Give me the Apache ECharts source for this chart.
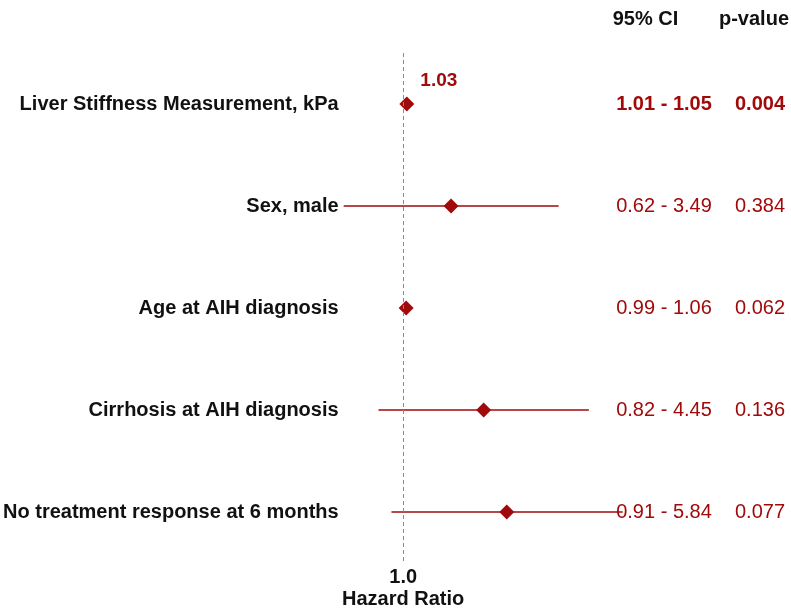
<!DOCTYPE html>
<html>
<head>
<meta charset="utf-8">
<script src="https://cdn.jsdelivr.net/npm/echarts@6/dist/echarts.min.js"></script>
<style>
  html, body { margin: 0; padding: 0; background: #ffffff; }
  #chart { width: 791px; height: 613px; }
</style>
</head>
<body>
<div id="chart"></div>
<script>
// Cox regression: hazard ratios with 95% confidence intervals
const variables = [
  'Liver Stiffness Measurement, kPa',
  'Sex, male',
  'Age at AIH diagnosis',
  'Cirrhosis at AIH diagnosis',
  'No treatment response at 6 months'
];
const hazardRatio = [1.03, 1.47, 1.024, 1.91, 2.30];
const ciLower = [1.01, 0.62, 0.99, 0.82, 0.91];
const ciUpper = [1.05, 3.49, 1.06, 4.45, 5.84];
const ciText = ['1.01 - 1.05', '0.62 - 3.49', '0.99 - 1.06', '0.82 - 4.45', '0.91 - 5.84'];
const pValues = ['0.004', '0.384', '0.062', '0.136', '0.077'];
const significantRows = [0];

const RED = '#a00a0a';
const FONT = 'Liberation Sans, Arial, sans-serif';
const FS = 20;

const chart = echarts.init(document.getElementById('chart'), null, { renderer: 'canvas' });

const pointData = hazardRatio.map((v, i) => {
  const item = { value: [v, i] };
  if (significantRows.includes(i)) {
    item.label = {
      show: true,
      position: 'inside',
      offset: [32, -23],
      formatter: () => v.toFixed(2),
      color: RED,
      fontWeight: 'bold',
      fontSize: 19,
      fontFamily: FONT
    };
  }
  return item;
});

const ciData = ciLower.map((lo, i) => [lo, ciUpper[i], i]);

function columnAxis(texts, offset, header, headerPad) {
  return {
    type: 'category',
    data: variables,
    inverse: true,
    position: 'right',
    offset: offset,
    axisLine: { show: false },
    axisTick: { show: false },
    splitLine: { show: false },
    name: header,
    nameLocation: 'start',
    nameGap: 24,
    nameTextStyle: {
      color: '#111',
      fontWeight: 'bold',
      fontSize: FS,
      fontFamily: FONT,
      align: 'center',
      padding: headerPad
    },
    axisLabel: {
      margin: 0,
      align: 'center',
      fontFamily: FONT,
      fontSize: FS,
      color: RED,
      formatter: (val, idx) => significantRows.includes(idx)
        ? '{b|' + texts[idx] + '}'
        : texts[idx],
      rich: {
        b: { fontWeight: 'bold', fontSize: FS, fontFamily: FONT, color: RED }
      }
    }
  };
}

const option = {
  animation: false,
  backgroundColor: '#ffffff',
  grid: { left: 338, top: 53, width: 298, height: 510 },
  xAxis: {
    type: 'log',
    min: 0.6,
    max: 6.5,
    axisLine: { show: false },
    axisTick: { show: false },
    splitLine: { show: false },
    axisLabel: {
      customValues: [1],
      margin: 3,
      formatter: () => '{a|1.0}\n{b|Hazard Ratio}',
      rich: {
        a: { fontWeight: 'bold', fontSize: FS, fontFamily: FONT, color: '#111', lineHeight: 22, align: 'center' },
        b: { fontWeight: 'bold', fontSize: FS, fontFamily: FONT, color: '#111', lineHeight: 22, align: 'center' }
      }
    }
  },
  yAxis: [
    {
      type: 'category',
      data: variables,
      inverse: true,
      axisLine: { show: false },
      axisTick: { show: false },
      splitLine: { show: false },
      axisLabel: {
        margin: 1,
        fontWeight: 'bold',
        fontSize: FS,
        fontFamily: FONT,
        color: '#111'
      }
    },
    columnAxis(ciText, 28, '95% CI', [0, 37, 0, 0]),
    columnAxis(pValues, 124, 'p-value', [0, 12, 0, 0])
  ],
  series: [
    {
      type: 'custom',
      name: 'CI',
      clip: false,
      data: ciData,
      encode: { x: [0, 1], y: 2 },
      renderItem: (params, api) => {
        const a = api.coord([api.value(0), api.value(2)]);
        const b = api.coord([api.value(1), api.value(2)]);
        return {
          type: 'line',
          shape: { x1: a[0], y1: a[1], x2: b[0], y2: b[1] },
          style: { stroke: RED, lineWidth: 1.5 }
        };
      }
    },
    {
      type: 'scatter',
      name: 'HR',
      symbol: 'diamond',
      symbolSize: 15,
      itemStyle: { color: RED, opacity: 1 },
      data: pointData,
      z: 3,
      markLine: {
        silent: true,
        symbol: 'none',
        label: { show: false },
        lineStyle: { color: '#8a8a8a', type: [4, 3], width: 1 },
        data: [{ xAxis: 1 }]
      }
    }
  ]
};

chart.setOption(option);
</script>
</body>
</html>
